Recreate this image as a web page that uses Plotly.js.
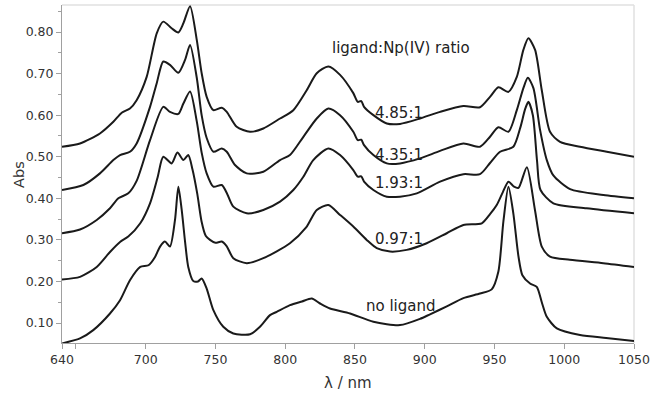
<!DOCTYPE html>
<html>
<head>
<meta charset="utf-8">
<script src="https://cdn.plot.ly/plotly-3.0.1.min.js"></script>
<style>html,body{margin:0;padding:0;background:#fff;}#chart{width:652px;height:398px;}</style>
</head>
<body>
<div id="chart"></div>
<script>
// Wavelength (nm) and absorbance for each spectrum
var wl_485 = [640,652.9,667.2,676.8,682.8,688.7,693.5,700.7,707.9,712.6,718.6,723.4,727.0,731.8,736.6,740.1,743.7,748.5,754.5,758.1,765.2,774.8,784.3,796.3,805.8,815.4,822.6,830.9,839.3,848.8,852,854.5,856.5,863.2,872.8,882.3,896.6,911.0,927.7,939.6,946.8,952.8,960.0,966.0,970.7,974.3,979.1,983.9,989.8,997.0,1011.3,1030.5,1050];
var abs_485 = [0.524,0.532,0.556,0.584,0.606,0.616,0.636,0.692,0.797,0.825,0.809,0.799,0.821,0.862,0.781,0.701,0.644,0.612,0.618,0.608,0.572,0.560,0.568,0.592,0.612,0.660,0.701,0.717,0.697,0.653,0.632,0.634,0.620,0.600,0.580,0.579,0.592,0.608,0.622,0.619,0.644,0.667,0.656,0.692,0.757,0.785,0.757,0.660,0.560,0.536,0.524,0.512,0.500];

var wl_435 = [640,655.3,667.2,676.8,681.6,688.7,693.5,703.1,707.9,712.6,717.4,723.4,728.2,731.8,736.6,740.1,743.7,748.5,754.5,758.1,764.0,772.4,784.3,796.3,803.4,813.0,822.6,830.9,839.3,848.8,852,854.5,856.5,863.2,872.8,882.3,896.6,911.0,927.7,939.6,946.8,952.8,960.0,966.0,970.7,973.9,977.9,982.7,987.5,992.2,1004.2,1028.0,1050];
var abs_435 = [0.420,0.432,0.460,0.492,0.504,0.512,0.532,0.620,0.677,0.729,0.721,0.702,0.733,0.769,0.690,0.600,0.545,0.512,0.520,0.512,0.480,0.460,0.464,0.492,0.504,0.548,0.592,0.616,0.600,0.560,0.540,0.541,0.528,0.504,0.484,0.484,0.496,0.514,0.532,0.524,0.548,0.571,0.560,0.612,0.665,0.690,0.665,0.564,0.492,0.455,0.422,0.408,0.400];

var wl_193 = [640,652.9,664.9,674.4,680.4,687.5,693.5,703.1,712.6,717.4,723.4,727.0,731.8,736.6,740.1,743.7,748.5,754.5,758.5,762.8,772.4,784.3,796.3,805.8,813.0,820.1,830.9,839.3,848.8,852,854.5,856.5,863.2,872.8,882.3,894.3,911.0,927.7,939.6,946.8,954.0,963.5,968.5,972.0,974.3,977.5,980.5,983.0,992.2,1016.0,1050];
var abs_193 = [0.316,0.325,0.348,0.376,0.400,0.412,0.442,0.540,0.620,0.608,0.603,0.628,0.657,0.585,0.510,0.460,0.428,0.432,0.410,0.380,0.364,0.372,0.392,0.420,0.452,0.492,0.520,0.504,0.468,0.452,0.453,0.440,0.420,0.404,0.404,0.412,0.440,0.458,0.458,0.485,0.512,0.524,0.570,0.615,0.632,0.600,0.490,0.420,0.388,0.376,0.364];

var wl_097 = [640,652.9,664.9,674.4,681.6,687.5,696.1,703.1,708.5,712.6,718.6,722.7,727.0,730.5,733.5,737.0,740.0,743.0,746.1,750.0,754.5,758.0,762.8,772.4,784.3,803.4,815.0,822.6,830.9,839.3,848.8,858.4,865.6,875.2,887.1,901.4,915.8,927.7,940.9,946.8,951.6,956.0,960.0,964.0,967.2,973.2,979.0,983.9,989.8,1004.0,1028.0,1050];
var abs_097 = [0.205,0.211,0.235,0.271,0.295,0.308,0.340,0.388,0.450,0.500,0.484,0.510,0.492,0.504,0.470,0.410,0.345,0.310,0.300,0.293,0.296,0.285,0.256,0.244,0.256,0.292,0.330,0.372,0.384,0.360,0.332,0.300,0.280,0.272,0.276,0.292,0.316,0.336,0.340,0.362,0.384,0.415,0.440,0.428,0.425,0.475,0.372,0.284,0.260,0.252,0.244,0.235];

var wl_none = [640,652.9,662.4,674.4,681.6,688.7,696.1,702.0,706.7,710.3,713.8,717.4,721.0,723.4,725.8,728.2,730.5,734.1,737.5,740.1,743.7,748.5,755.6,762.8,774.8,781.9,789.1,793.9,803.4,812.0,819.0,825.0,832.1,846.5,863.2,882.3,896.6,903.8,915.8,927.7,939.6,948.0,952.8,956.4,960.0,963.5,967.2,970.0,975.5,980.3,983.9,987.5,994.7,1011.3,1030.0,1050];
var abs_none = [0.051,0.063,0.083,0.123,0.155,0.203,0.235,0.239,0.259,0.284,0.296,0.284,0.348,0.428,0.372,0.296,0.235,0.201,0.200,0.207,0.183,0.131,0.091,0.075,0.073,0.091,0.119,0.127,0.143,0.152,0.159,0.147,0.135,0.123,0.103,0.095,0.110,0.121,0.140,0.160,0.171,0.181,0.224,0.345,0.428,0.364,0.260,0.215,0.195,0.187,0.150,0.115,0.087,0.071,0.064,0.057];

var xTickVals = [640,650,700,750,800,850,900,950,1000,1050];
var xTickText = ['640','','700','750','800','850','900','950','1000','1050'];

var labels = ['ligand:Np(IV) ratio','4.85:1','4.35:1','1.93:1','0.97:1','no ligand'];
var labelX = [883,881.6,881.6,881.6,881.6,883];
var labelY = [0.7615,0.605,0.504,0.437,0.302,0.142];

var xTitle = 'λ / nm';
var yTitle = 'Abs';

var series = [[wl_485,abs_485],[wl_435,abs_435],[wl_193,abs_193],[wl_097,abs_097],[wl_none,abs_none]];
var traces = series.map(function(s){
  return {x:s[0], y:s[1], type:'scatter', mode:'lines',
    line:{color:'#1a1a1a', width:2, shape:'spline', smoothing:0.7},
    hoverinfo:'skip', showlegend:false};
});

var annotations = labels.map(function(t,i){
  return {x:labelX[i], y:labelY[i], xref:'x', yref:'y', text:t, showarrow:false,
    xanchor:'center', yanchor:'middle',
    font:{family:'DejaVu Sans', size:15, color:'#222'}};
});
annotations.push({x:0.5, y:-0.118, xref:'paper', yref:'paper', text:xTitle, showarrow:false,
  xanchor:'center', yanchor:'middle', font:{family:'DejaVu Sans', size:15, color:'#333'}});
annotations.push({x:-0.0752, y:0.5, xref:'paper', yref:'paper', text:yTitle, showarrow:false,
  textangle:-90, xanchor:'center', yanchor:'middle', font:{family:'DejaVu Sans', size:14.5, color:'#333'}});

var axisFont = {family:'DejaVu Sans', size:12.5, color:'#333'};
var layout = {
  width:652, height:398,
  margin:{l:62, r:18, t:5, b:55},
  paper_bgcolor:'#fff', plot_bgcolor:'#fff',
  showlegend:false,
  xaxis:{range:[640,1050], tickmode:'array', tickvals:xTickVals, ticktext:xTickText,
    ticks:'outside', ticklen:5, tickcolor:'#a0a0a0', tickwidth:1,
    showline:true, linecolor:'#a0a0a0', linewidth:1, showgrid:false, zeroline:false,
    tickfont:axisFont},
  yaxis:{range:[0.052,0.865], tick0:0, dtick:0.1, tickformat:'.2f',
    ticks:'outside', ticklen:5, tickcolor:'#a0a0a0', tickwidth:1,
    minor:{dtick:0.05, tick0:0, ticks:'outside', ticklen:3, tickcolor:'#a0a0a0', showgrid:false},
    showline:true, linecolor:'#a0a0a0', linewidth:1, showgrid:false, zeroline:false,
    tickfont:axisFont},
  shapes:[
    {type:'line', xref:'paper', yref:'paper', x0:0, x1:1, y0:1, y1:1, line:{color:'#e0e0e0', width:1.5}, layer:'below'},
    {type:'line', xref:'paper', yref:'paper', x0:1, x1:1, y0:0, y1:1, line:{color:'#e0e0e0', width:1.5}, layer:'below'}
  ],
  annotations:annotations
};

Plotly.newPlot('chart', traces, layout, {displayModeBar:false, staticPlot:true});
</script>
</body>
</html>
